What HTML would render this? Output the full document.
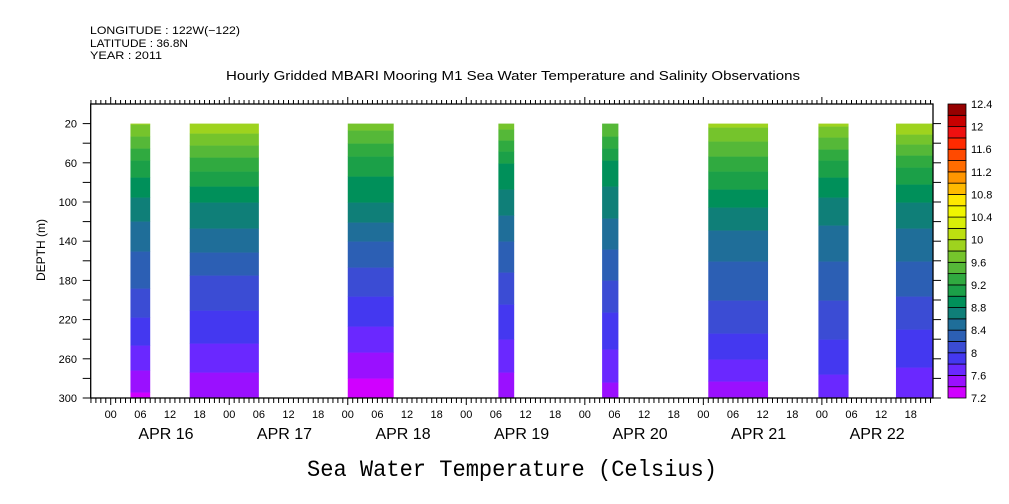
<!DOCTYPE html>
<html><head><meta charset="utf-8">
<style>
html,body{margin:0;padding:0;background:#fff;}
svg{display:block;font-family:"Liberation Sans",sans-serif;}
</style></head>
<body>
<svg id="chart" width="1009" height="504" viewBox="0 0 1009 504" xmlns="http://www.w3.org/2000/svg">
<g font-size="11" fill="#000">
<text x="90" y="34" textLength="150" lengthAdjust="spacingAndGlyphs">LONGITUDE : 122W(−122)</text>
<text x="90" y="47" textLength="98" lengthAdjust="spacingAndGlyphs">LATITUDE : 36.8N</text>
<text x="90" y="59" textLength="72" lengthAdjust="spacingAndGlyphs">YEAR : 2011</text>
</g>
<text x="226" y="80" textLength="574" lengthAdjust="spacingAndGlyphs" font-size="12.5">Hourly Gridded MBARI Mooring M1 Sea Water Temperature and Salinity Observations</text>
<text transform="translate(45,250) rotate(-90)" text-anchor="middle" font-size="12">DEPTH (m)</text>
<text x="307" y="476" textLength="410" lengthAdjust="spacingAndGlyphs" font-size="23" font-family="Liberation Mono, monospace">Sea Water Temperature (Celsius)</text>
<g id="plot"></g>
<g id="axes"></g>
<g id="cbar"></g>
</svg>
<script>
// ---- data ----
const blockStartHours = [4, 16, 48, 78.5, 99.5, 121, 143.3, 159];
const blockEndHours   = [8, 30, 57.3, 81.7, 102.8, 133.1, 149.4, 166.5];
const profileDepths = [20, 60, 100, 140, 180, 220, 260, 300];
const profileB1 = [9.8, 9.15, 8.75, 8.45, 8.25, 7.98, 7.7, 7.35];
const profileB2 = [9.95, 9.3, 8.8, 8.5, 8.15, 7.95, 7.7, 7.4];
const profileB3 = [9.7, 9.1, 8.8, 8.4, 8.1, 7.85, 7.55, 7.25];
const profileB4 = [9.7, 9.0, 8.7, 8.4, 8.15, 7.9, 7.7, 7.4];
const profileB5 = [9.6, 8.95, 8.7, 8.45, 8.2, 7.95, 7.75, 7.5];
const profileB6 = [9.85, 9.3, 8.85, 8.5, 8.3, 8.1, 7.8, 7.45];
const profileB7 = [9.85, 9.15, 8.75, 8.5, 8.3, 8.1, 7.9, 7.65];
const profileB8 = [10.0, 9.25, 8.8, 8.5, 8.3, 8.05, 7.85, 7.6];
const blockProfiles = [profileB1, profileB2, profileB3, profileB4, profileB5, profileB6, profileB7, profileB8];
const levelMin = 7.2, levelStep = 0.2;
const levelColors = ["#d000ff","#9a10ff","#6a28ff","#4438f0","#3b4cd4","#2c5fb4","#1f6e99","#0f7f78","#00905a","#1ba048","#30aa40","#55b838","#75c42c","#9ed31e","#bde010","#d8ee08","#f0f500","#ffe800","#ffba00","#ff9600","#ff6c00","#ff4a00","#ff2a00","#ee1010","#c80000","#960000"];
const cbarLabels = ["7.2","7.6","8","8.4","8.8","9.2","9.6","10","10.4","10.8","11.2","11.6","12","12.4"];
const depthTicks = [20,60,100,140,180,220,260,300];
const hourLabels = ["00","06","12","18"];
const dayLabels = ["APR 16","APR 17","APR 18","APR 19","APR 20","APR 21","APR 22"];

// ---- scales ----
const X0 = 90.7, X1 = 933, Y0 = 104, Y1 = 398;
const HMIN = -4.05, HMAX = 166.5, DMIN = 0, DMAX = 300;
const xs = h => X0 + (h - HMIN) / (HMAX - HMIN) * (X1 - X0);
const ys = d => Y0 + (d - DMIN) / (DMAX - DMIN) * (Y1 - Y0);
const NS = "http://www.w3.org/2000/svg";
function mk(tag, attrs, parent){ const e = document.createElementNS(NS, tag); for (const k in attrs) e.setAttribute(k, attrs[k]); parent.appendChild(e); return e; }
function interp(prof, d){
  if (d <= profileDepths[0]) return prof[0];
  for (let i=1;i<profileDepths.length;i++){
    if (d <= profileDepths[i]){ const t=(d-profileDepths[i-1])/(profileDepths[i]-profileDepths[i-1]); return prof[i-1]+t*(prof[i]-prof[i-1]); }
  }
  return prof[prof.length-1];
}
function colorFor(v){ let i=Math.floor((v-levelMin)/levelStep); i=Math.max(0,Math.min(levelColors.length-1,i)); return levelColors[i]; }

// ---- blocks ----
const plot = document.getElementById('plot');
blockProfiles.forEach((prof, b) => {
  const g = mk('g', {}, plot);
  
  
  const xa = xs(blockStartHours[b]), xb = xs(blockEndHours[b]);
  const yTop = ys(20);
  let runStart = yTop, runColor = null;
  for (let y = yTop; y <= Y1 + 0.5; y += 1){
    const d = DMIN + (y - Y0) / (Y1 - Y0) * (DMAX - DMIN);
    const c = colorFor(interp(prof, d));
    if (runColor === null){ runColor = c; runStart = y; }
    else if (c !== runColor){
      const r = mk('rect', {x:xa, y:runStart, width:xb-xa, height:y-runStart+0.3, fill:runColor}, g);
      
      
      runColor = c; runStart = y;
    }
  }
  const r = mk('rect', {x:xa, y:runStart, width:xb-xa, height:Y1-runStart, fill:runColor}, g);
  
  
});

// ---- axes ----
const ax = document.getElementById('axes');
const frame = mk('rect', {x:X0, y:Y0, width:X1-X0, height:Y1-Y0, fill:'none', stroke:'#000', 'stroke-width':1.3}, ax);


for (let d = 20; d <= 300; d += 20){
  const y = ys(d);
  mk('line', {x1:X0-8, x2:X0, y1:y, y2:y, stroke:'#000'}, ax);
  mk('line', {x1:X1, x2:X1+8, y1:y, y2:y, stroke:'#000'}, ax);
}
depthTicks.forEach(d => {
  const t = mk('text', {x:77, y:ys(d)+4, 'text-anchor':'end', 'font-size':11}, ax);
  t.textContent = d;
  
  
});
for (let h = -4; h <= 166; h++){
  const x = xs(h);
  const major = (h % 24 === 0);
  mk('line', {x1:x, x2:x, y1:Y1, y2:Y1+(major?7:5), stroke:'#000'}, ax);
  mk('line', {x1:x, x2:x, y1:Y0, y2:Y0-(major?7:4), stroke:'#000'}, ax);
  if (h >= 0 && h % 6 === 0){
    const t = mk('text', {x:x, y:418, 'text-anchor':'middle', 'font-size':11}, ax);
    t.textContent = hourLabels[(h/6)%4];
    
    
  }
}
dayLabels.forEach((lab, i) => {
  const t = mk('text', {x:xs(i*24+12)-4, y:439, 'text-anchor':'middle', 'font-size':16}, ax);
  t.textContent = lab;
  
  
});

// ---- colorbar ----
const cb = document.getElementById('cbar');
const CX = 948, CW = 18, n = levelColors.length, ch = (Y1 - Y0) / n;
levelColors.forEach((c, i) => {
  const r = mk('rect', {x:CX, y:Y1-(i+1)*ch, width:CW, height:ch, fill:c, stroke:'#000', 'stroke-width':0.8}, cb);
  
  
});
cbarLabels.forEach((lab, i) => {
  const t = mk('text', {x:CX+CW+5, y:Y1-i*2*ch+4, 'font-size':11}, cb);
  t.textContent = lab;
  
  
});
</script>
</body></html>
